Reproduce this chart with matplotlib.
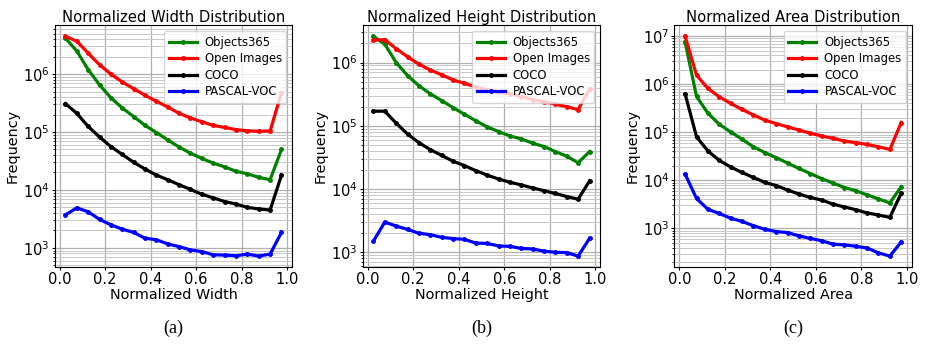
import matplotlib
matplotlib.use("Agg")
import matplotlib.pyplot as plt
import numpy as np

# bin centres (20 bins over [0, 1])
x = [0.025, 0.075, 0.125, 0.175, 0.225, 0.275, 0.325, 0.375, 0.425, 0.475,
     0.525, 0.575, 0.625, 0.675, 0.725, 0.775, 0.825, 0.875, 0.925, 0.975]

series_names = ["Objects365", "Open Images", "COCO", "PASCAL-VOC"]
series_colors = ["green", "red", "black", "blue"]

# Normalized width
width_obj365 = [4.2e6, 2.5e6, 1.2e6, 6.5e5, 3.9e5, 2.6e5, 1.85e5, 1.3e5, 9.8e4, 7.3e4,
                5.5e4, 4.3e4, 3.5e4, 2.9e4, 2.5e4, 2.1e4, 1.9e4, 1.65e4, 1.5e4, 5.0e4]
width_openimg = [4.5e6, 3.7e6, 2.3e6, 1.45e6, 1.0e6, 7.3e5, 5.6e5, 4.3e5, 3.4e5, 2.7e5,
                 2.1e5, 1.75e5, 1.5e5, 1.3e5, 1.2e5, 1.1e5, 1.05e5, 1.03e5, 1.04e5, 4.8e5]
width_coco = [3.1e5, 2.1e5, 1.25e5, 8.2e4, 5.6e4, 4.1e4, 3.0e4, 2.3e4, 1.8e4, 1.5e4,
              1.23e4, 1.02e4, 8.4e3, 7.3e3, 6.3e3, 5.7e3, 5.0e3, 4.7e3, 4.5e3, 1.8e4]
width_voc = [3.7e3, 4.9e3, 4.2e3, 3.1e3, 2.5e3, 2.1e3, 1.85e3, 1.47e3, 1.38e3, 1.17e3,
             1.05e3, 920, 860, 760, 750, 730, 780, 720, 780, 1.85e3]

# Normalized height
height_obj365 = [2.6e6, 1.95e6, 1.0e6, 6.2e5, 4.3e5, 3.2e5, 2.5e5, 1.94e5, 1.52e5, 1.2e5,
                 9.6e4, 8.1e4, 6.9e4, 6.2e4, 5.3e4, 4.7e4, 3.9e4, 3.3e4, 2.6e4, 3.9e4]
height_openimg = [2.25e6, 2.3e6, 1.66e6, 1.23e6, 9.4e5, 7.6e5, 6.4e5, 5.3e5, 4.7e5, 4.1e5,
                  3.7e5, 3.4e5, 3.2e5, 2.9e5, 2.6e5, 2.4e5, 2.2e5, 2.0e5, 1.8e5, 3.8e5]
height_coco = [1.7e5, 1.7e5, 1.1e5, 7.4e4, 5.4e4, 4.2e4, 3.4e4, 2.75e4, 2.35e4, 1.95e4,
               1.66e4, 1.44e4, 1.28e4, 1.16e4, 1.04e4, 9.4e3, 8.5e3, 7.6e3, 6.9e3, 1.34e4]
height_voc = [1.5e3, 3.0e3, 2.6e3, 2.3e3, 2.0e3, 1.9e3, 1.72e3, 1.65e3, 1.6e3, 1.4e3,
              1.38e3, 1.26e3, 1.24e3, 1.15e3, 1.13e3, 1.04e3, 1.0e3, 990, 870, 1.66e3]

# Normalized area
area_obj365 = [7.6e6, 5.6e5, 2.5e5, 1.47e5, 1.02e5, 7.2e4, 5.0e4, 3.8e4, 2.97e4, 2.3e4,
               1.77e4, 1.39e4, 1.09e4, 8.8e3, 7.1e3, 6.1e3, 5.0e3, 4.1e3, 3.4e3, 7.4e3]
area_openimg = [1.0e7, 1.55e6, 8.2e5, 5.5e5, 4.0e5, 3.0e5, 2.3e5, 1.8e5, 1.52e5, 1.3e5,
                1.12e5, 9.6e4, 8.4e4, 7.5e4, 6.6e4, 6.1e4, 5.6e4, 5.0e4, 4.4e4, 1.6e5]
area_coco = [6.3e5, 8.1e4, 4.1e4, 2.6e4, 1.9e4, 1.46e4, 1.15e4, 9.1e3, 7.8e3, 6.3e3,
             5.2e3, 4.4e3, 3.9e3, 3.2e3, 2.8e3, 2.45e3, 2.1e3, 1.9e3, 1.7e3, 5.4e3]
area_voc = [1.35e4, 4.2e3, 2.5e3, 2.05e3, 1.63e3, 1.4e3, 1.14e3, 960, 860, 820,
            700, 620, 555, 470, 455, 425, 390, 310, 265, 525]

panels = [
    ("Normalized Width", [width_obj365, width_openimg, width_coco, width_voc], "(a)"),
    ("Normalized Height", [height_obj365, height_openimg, height_coco, height_voc], "(b)"),
    ("Normalized Area", [area_obj365, area_openimg, area_coco, area_voc], "(c)"),
]

fig = plt.figure(figsize=(9.25, 3.46), dpi=100)
lefts = [0.059, 0.392, 0.729]

for left, (name, data, cap) in zip(lefts, panels):
    ax = fig.add_axes([left, 0.228, 0.257, 0.699])
    for vals, label, color in zip(data, series_names, series_colors):
        ax.plot(x, vals, color=color, label=label, lw=2.3, marker=".", markersize=5)
    ax.set_yscale("log")
    ax.grid(True, which="major", color="#b0b0b0", lw=0.9)
    ax.grid(True, which="minor", color="#c8c8c8", lw=0.7)
    ax.set_xticks([0.0, 0.2, 0.4, 0.6, 0.8, 1.0])
    ax.tick_params(which="major", labelsize=10.5, length=2.2, pad=1.2)
    ax.tick_params(which="minor", length=1.2)
    ax.set_title(name + " Distribution", fontsize=10.6, pad=2)
    ax.set_xlabel(name, fontsize=10.4, labelpad=0.5)
    ax.set_ylabel("Frequency", fontsize=10.4, labelpad=2.5)
    ax.legend(loc="upper right", fontsize=8.4, labelspacing=0.3,
              handlelength=2.4, handletextpad=0.7)
    bb = ax.get_position()
    fig.text(bb.x0 + bb.width / 2, 0.05, cap, ha="center", va="center",
             fontsize=13, family="Liberation Serif")

fig.savefig("out.png", dpi=100)
